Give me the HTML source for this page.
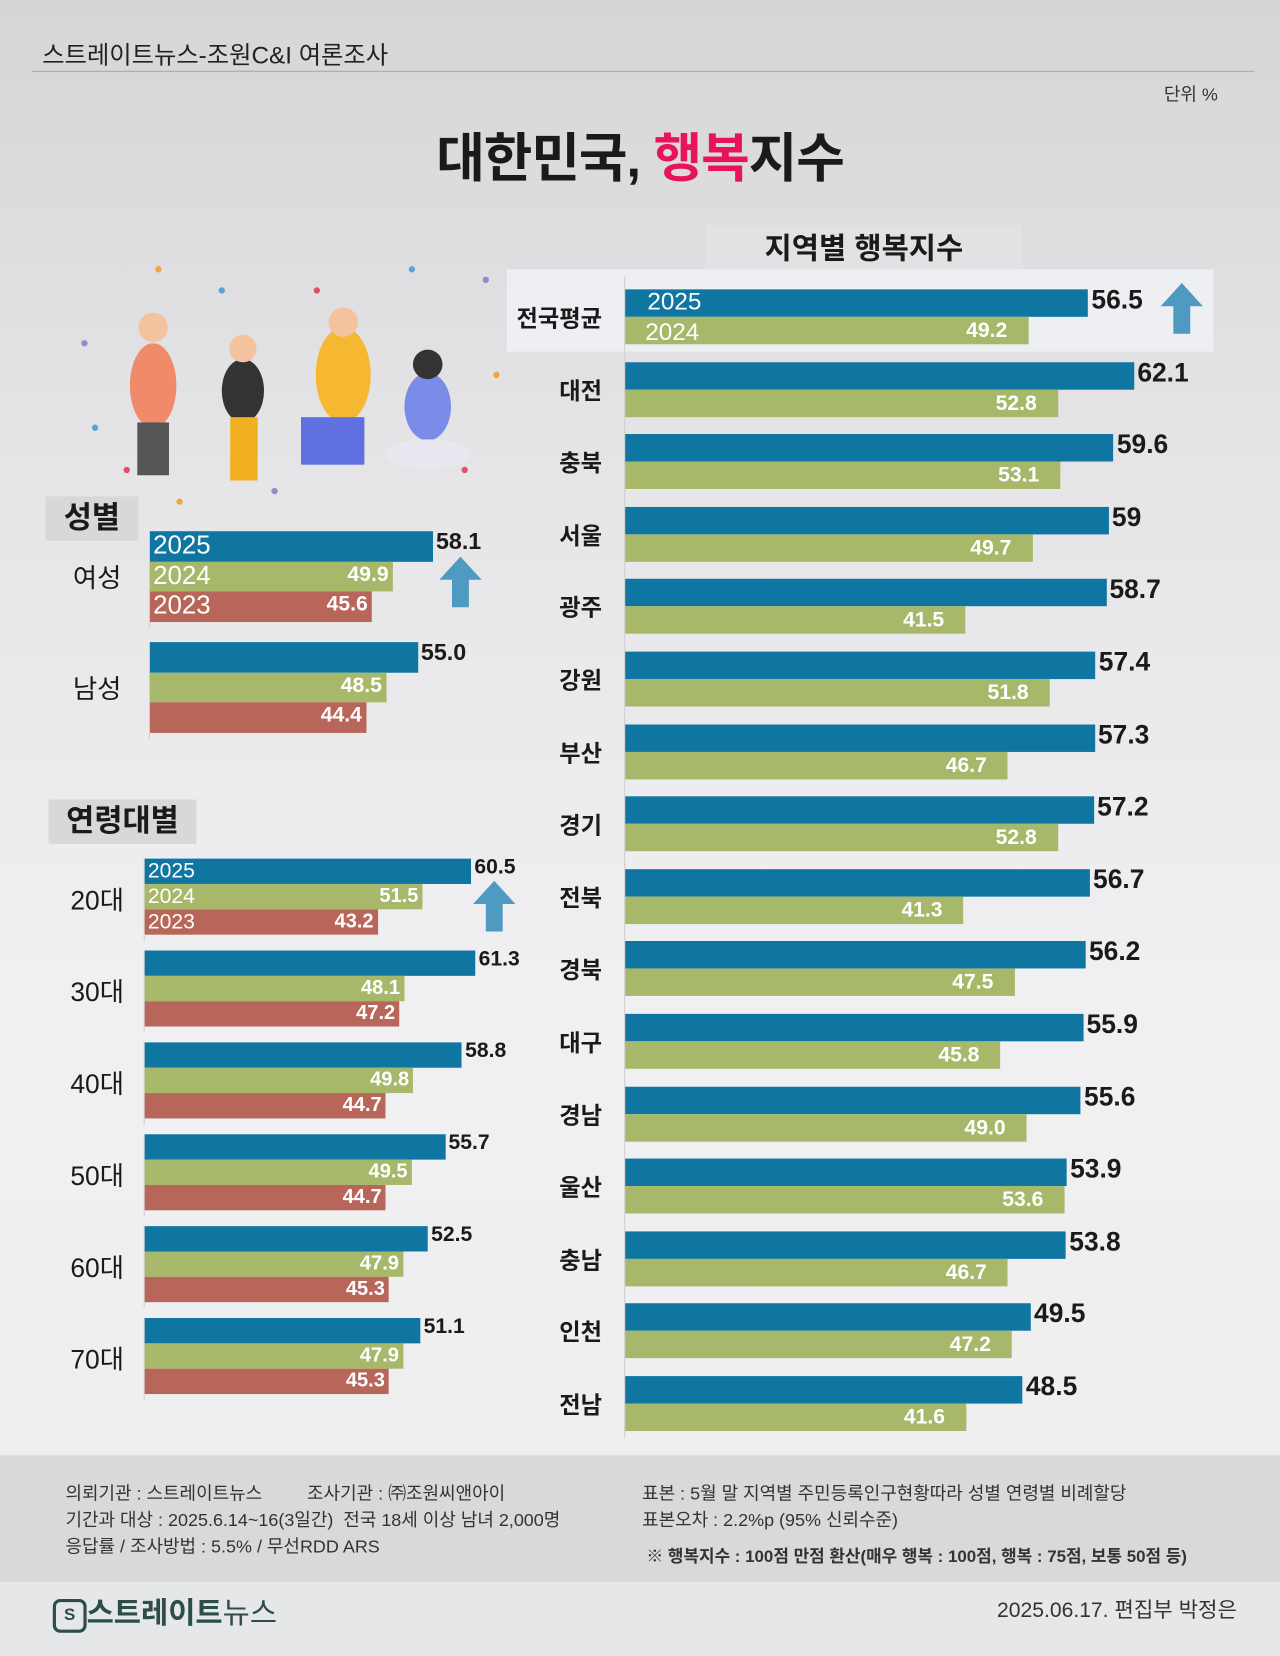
<!DOCTYPE html>
<html><head><meta charset="utf-8">
<style>
html,body{margin:0;padding:0;width:1280px;height:1656px;overflow:hidden;background:#e9e9ea;}
#wrap{position:absolute;left:0;top:0;width:1212px;height:1568px;transform:scale(1.05611);transform-origin:0 0;
 background:linear-gradient(180deg,#d6d6d8 0%,#e6e6e8 30%,#f0f0f2 60%,#eeeeef 100%);
 font-family:"Liberation Sans","Noto Sans CJK KR",sans-serif;color:#1a1a1a;overflow:hidden;}
.abs{position:absolute;}
.bar{position:absolute;}
.vin{position:absolute;color:#fff;font-weight:bold;text-align:right;}
.vout{position:absolute;font-weight:bold;color:#1a1a1a;}
.lbl{position:absolute;font-weight:bold;text-align:center;}
.yr{position:absolute;color:#fff;}
</style></head><body>
<div id="wrap">
 <div class="abs" style="left:40px;top:33px;font-size:23px;color:#222;">스트레이트뉴스-조원C&amp;I 여론조사</div>
 <div class="abs" style="left:30px;top:67px;width:1158px;height:1px;background:#a8a8a8;"></div>
 <div class="abs" style="left:1102px;top:75px;font-size:17px;color:#333;">단위 %</div>
 <div class="abs" style="left:0;width:1212px;top:110px;text-align:center;font-size:50px;font-weight:bold;letter-spacing:-1px;">대한민국, <span style="color:#e8145a">행복</span>지수</div>
 <div class="abs" style="left:668px;top:213px;width:300px;height:44px;background:#e2e2e4;text-align:center;font-size:28px;font-weight:bold;line-height:46px;">지역별 행복지수</div>
 <div class="abs" style="left:480px;top:255px;width:669px;height:78px;background:#edeff2;"></div>
 <div class="abs" style="left:591px;top:262px;width:1px;height:1100px;background:#cfcfd2;"></div>

 <svg class="abs" style="left:60px;top:245px" width="420" height="250">
  <g opacity="0.9">
   <circle cx="20" cy="80" r="3" fill="#8a7fd0"/><circle cx="90" cy="10" r="3" fill="#f0a030"/><circle cx="150" cy="30" r="3" fill="#4aa0d0"/>
   <circle cx="240" cy="30" r="3" fill="#e04060"/><circle cx="400" cy="20" r="3" fill="#8a7fd0"/><circle cx="410" cy="110" r="3" fill="#f0a030"/>
   <circle cx="30" cy="160" r="3" fill="#4aa0d0"/><circle cx="380" cy="200" r="3" fill="#e04060"/><circle cx="200" cy="220" r="3" fill="#8a7fd0"/>
   <circle cx="110" cy="230" r="3" fill="#f0a030"/><circle cx="330" cy="10" r="3" fill="#4aa0d0"/><circle cx="60" cy="200" r="3" fill="#e04060"/>
  </g>
  <ellipse cx="85" cy="120" rx="22" ry="40" fill="#f08a6a"/><circle cx="85" cy="65" r="14" fill="#f3c3a0"/><rect x="70" y="155" width="30" height="50" fill="#555"/>
  <ellipse cx="170" cy="125" rx="20" ry="30" fill="#333"/><circle cx="170" cy="85" r="13" fill="#f3c3a0"/><rect x="158" y="150" width="26" height="60" fill="#f0b020"/>
  <ellipse cx="265" cy="110" rx="26" ry="45" fill="#f5b830"/><circle cx="265" cy="60" r="14" fill="#f3c3a0"/><rect x="225" y="150" width="60" height="45" fill="#6070e0"/>
  <ellipse cx="345" cy="140" rx="22" ry="32" fill="#7a8ce8"/><circle cx="345" cy="100" r="14" fill="#333"/><ellipse cx="345" cy="185" rx="40" ry="14" fill="#e8e8f0"/>
 </svg>

 <div class="abs" style="left:43px;top:470px;width:88px;height:42px;background:#d8d8da;font-size:29px;font-weight:bold;text-align:center;line-height:42px;">성별</div>
 <div class="abs" style="left:46px;top:757px;width:140px;height:42px;background:#d8d8da;font-size:29px;font-weight:bold;text-align:center;line-height:42px;">연령대별</div>

 <div id="charts"></div>

 <svg class="abs" style="left:1097px;top:268px" width="44" height="50"><polygon points="22,0 42,22 30,22 30,48 14,48 14,22 2,22" fill="#4f9ac0"/></svg>
 <svg class="abs" style="left:414px;top:527px" width="44" height="50"><polygon points="22,0 42,22 30,22 30,48 14,48 14,22 2,22" fill="#4f9ac0"/></svg>
 <svg class="abs" style="left:446px;top:834px" width="44" height="50"><polygon points="22,0 42,22 30,22 30,48 14,48 14,22 2,22" fill="#4f9ac0"/></svg>

 <div class="abs" style="left:0;top:1378px;width:1212px;height:120px;background:#d9d9da;font-size:17px;color:#333;">
  <div class="abs" style="left:62px;top:24px;line-height:25px;">의뢰기관 : 스트레이트뉴스&nbsp;&nbsp;&nbsp;&nbsp;&nbsp;&nbsp;&nbsp;&nbsp;&nbsp;조사기관 : ㈜조원씨앤아이<br>기간과 대상 : 2025.6.14~16(3일간)&nbsp; 전국 18세 이상 남녀 2,000명<br>응답률 / 조사방법 : 5.5% / 무선RDD ARS</div>
  <div class="abs" style="left:608px;top:24px;line-height:25px;">표본 : 5월 말 지역별 주민등록인구현황따라 성별 연령별 비례할당<br>표본오차 : 2.2%p (95% 신뢰수준)</div>
  <div class="abs" style="left:612px;top:82px;font-weight:bold;font-size:16px;">※ 행복지수 : 100점 만점 환산(매우 행복 : 100점, 행복 : 75점, 보통 50점 등)</div>
 </div>
 <div class="abs" style="left:0;top:1498px;width:1212px;height:70px;background:#e6e7e9;">
  <div class="abs" style="left:50px;top:8px;font-size:28px;font-weight:bold;color:#2c4d4a;"><span style="display:inline-block;width:26px;height:26px;border:3px solid #2c4d4a;border-radius:7px;font-size:16px;text-align:center;line-height:26px;vertical-align:3px;">S</span>스트레이트<span style="font-weight:normal">뉴스</span></div>
  <div class="abs" style="left:944px;top:10px;font-size:20px;color:#333;">2025.06.17. 편집부 박정은</div>
 </div>
</div>
<script>
const regions=["전국평균","대전","충북","서울","광주","강원","부산","경기","전북","경북","대구","경남","울산","충남","인천","전남"];
const region2025=[56.5,62.1,59.6,59,58.7,57.4,57.3,57.2,56.7,56.2,55.9,55.6,53.9,53.8,49.5,48.5];
const region2024=[49.2,52.8,53.1,49.7,41.5,51.8,46.7,52.8,41.3,47.5,45.8,49.0,53.6,46.7,47.2,41.6];
const regionLabels2025=["56.5","62.1","59.6","59","58.7","57.4","57.3","57.2","56.7","56.2","55.9","55.6","53.9","53.8","49.5","48.5"];
const regionLabels2024=["49.2","52.8","53.1","49.7","41.5","51.8","46.7","52.8","41.3","47.5","45.8","49.0","53.6","46.7","47.2","41.6"];
const genders=["여성","남성"];
const gender2025=[58.1,55.0];
const gender2024=[49.9,48.5];
const gender2023=[45.6,44.4];
const ages=["20대","30대","40대","50대","60대","70대"];
const age2025=[60.5,61.3,58.8,55.7,52.5,51.1];
const age2024=[51.5,48.1,49.8,49.5,47.9,47.9];
const age2023=[43.2,47.2,44.7,44.7,45.3,45.3];
const years=["2025","2024","2023"];

const C=document.getElementById('charts');
const COLS=["#0e76a0","#a8b86a","#b8665a"];
function mk(cls,style,txt){const d=document.createElement('div');d.className=cls;d.style.cssText=style;if(txt!=null)d.textContent=txt;C.appendChild(d);return d;}
function fmt(v){return v.toFixed(1);}

const rx=v=>592+v*7.76;
regions.forEach((r,i)=>{
 const y=274+i*68.6;
 const l=mk('lbl',`left:460px;width:110px;text-align:right;top:${y+10}px;font-size:22px;`,r);
 
 
 const b=mk('bar',`left:592px;top:${y}px;width:${rx(region2025[i])-592}px;height:26px;background:${COLS[0]};`);
 
 
 const g=mk('bar',`left:592px;top:${y+26}px;width:${rx(region2024[i])-592}px;height:26px;background:${COLS[1]};`);
 
 
 const v1=mk('vout',`left:${rx(region2025[i])+3}px;top:${y-4}px;font-size:25px;`,regionLabels2025[i]);
 
 
 const v2=mk('vin',`left:${rx(region2024[i])-132}px;width:112px;top:${y+28}px;font-size:20px;`,regionLabels2024[i]);
 
 
 if(i===0){
  const a=mk('yr',`left:613px;top:${y-2}px;font-size:23px;`,'2025');
  
  
  const b2=mk('yr',`left:611px;top:${y+27}px;font-size:23px;`,'2024');
  
  
 }
});

function group(cats,s,left,scale,top0,pitch,h,labelLeft,nameP,labFs,valFs,inFs){
 const sx=v=>left+v*scale;
 cats.forEach((c,i)=>{
  const y=top0+i*pitch;
  const l=mk('lbl',`left:${labelLeft}px;width:80px;top:${y+h-4}px;font-size:25px;font-weight:normal;`,c);
  
  
  const ax=mk('bar',`left:${left-1}px;top:${y}px;width:1px;height:${h*3+6}px;background:#d0d0d2;`);
  
  
  s.forEach((arr,k)=>{
   const b=mk('bar',`left:${left}px;top:${y+k*h}px;width:${sx(arr[i])-left}px;height:${h}px;background:${COLS[k]};`);
   
   
   let v;
   if(k===0){v=mk('vout',`left:${sx(arr[i])+3}px;top:${y-3}px;font-size:${valFs}px;`,fmt(arr[i]));}
   else{v=mk('vin',`left:${sx(arr[i])-106}px;width:102px;top:${y+k*h+1}px;font-size:${inFs}px;`,fmt(arr[i]));}
   
   
   if(i===0){
    const t=mk('yr',`left:${left+3}px;top:${y+k*h}px;font-size:${h-4}px;line-height:${h}px;`,years[k]);
    
    
   }
  });
 });
}
group(genders,[gender2025,gender2024,gender2023],142,4.61,503,105,28.5,52,'gender',26,22,20);
group(ages,[age2025,age2024,age2023],137,5.11,813,87,24,52,'age',25,20,19);
</script>
</body></html>
